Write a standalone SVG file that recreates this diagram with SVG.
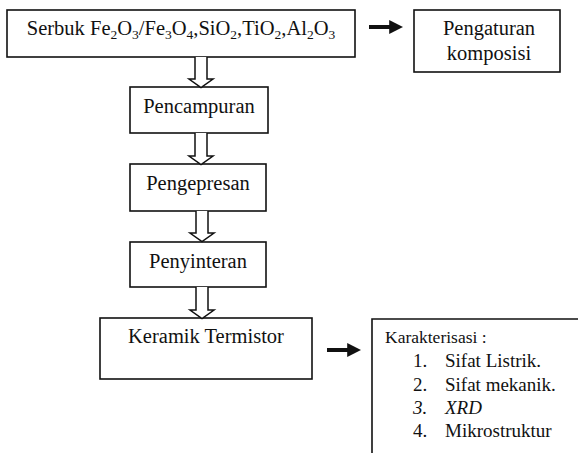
<svg xmlns="http://www.w3.org/2000/svg" width="578" height="453" viewBox="0 0 578 453">
<style>
.box{fill:#fff;stroke:#111;stroke-width:1.6}
text{font-family:'Liberation Serif','Times New Roman','DejaVu Serif',serif;fill:#111}
.t{font-size:20.5px}
.s{font-size:19px}
.hollow{fill:#fff;stroke:#111;stroke-width:1.5;stroke-linejoin:miter}
.solid{stroke:#111;stroke-width:4;fill:none}
.sub{font-size:13.5px}
</style>
<defs>
<marker id="ah" viewBox="0 0 10 10" refX="2" refY="5" markerWidth="3.5" markerHeight="3.5" orient="auto" markerUnits="strokeWidth">
<path d="M0,0 L10,5 L0,10 z" fill="#111"/>
</marker>
</defs>
<rect width="578" height="453" fill="#fff"/>
<g id="serbuk">
<rect class="box" x="7" y="10" width="348" height="47"/>
<text class="t" x="181" y="35" text-anchor="middle">Serbuk Fe<tspan class="sub" dy="4">2</tspan><tspan dy="-4">O</tspan><tspan class="sub" dy="4">3</tspan><tspan dy="-4">/Fe</tspan><tspan class="sub" dy="4">3</tspan><tspan dy="-4">O</tspan><tspan class="sub" dy="4">4</tspan><tspan dy="-4">,SiO</tspan><tspan class="sub" dy="4">2</tspan><tspan dy="-4">,TiO</tspan><tspan class="sub" dy="4">2</tspan><tspan dy="-4">,Al</tspan><tspan class="sub" dy="4">2</tspan><tspan dy="-4">O</tspan><tspan class="sub" dy="4">3</tspan></text>
</g>
<g id="pengaturan">
<rect class="box" x="414" y="10" width="146" height="62"/>
<text class="t" x="489" y="35" text-anchor="middle">Pengaturan</text>
<text class="t" x="489" y="60" text-anchor="middle">komposisi</text>
</g>
<g id="pencampuran">
<rect class="box" x="130" y="87" width="138" height="46"/>
<text class="t" x="199" y="113" text-anchor="middle">Pencampuran</text>
</g>
<g id="pengepresan">
<rect class="box" x="130" y="164" width="136" height="47"/>
<text class="t" x="198" y="190" text-anchor="middle">Pengepresan</text>
</g>
<g id="penyinteran">
<rect class="box" x="130" y="242" width="136" height="45"/>
<text class="t" x="198" y="268" text-anchor="middle">Penyinteran</text>
</g>
<g id="keramik">
<rect class="box" x="100" y="318" width="212" height="61"/>
<text class="t" x="206" y="343" text-anchor="middle">Keramik Termistor</text>
</g>
<g id="karakterisasi">
<path class="box" d="M372,454 V319 H580" fill="none"/>
<text x="385" y="343" font-size="17.5">Karakterisasi :</text>
<text class="s" x="413" y="367">1.</text><text class="s" x="445" y="367">Sifat Listrik.</text>
<text class="s" x="413" y="391">2.</text><text class="s" x="445" y="391">Sifat mekanik.</text>
<text class="s" x="413" y="414" font-style="italic">3.</text><text class="s" x="445" y="414" font-style="italic">XRD</text>
<text class="s" x="413" y="437">4.</text><text class="s" x="445" y="437">Mikrostruktur</text>
</g>
<g id="connectors">
<path class="hollow" d="M195,57 V79 H189 L201,87.5 L213,79 H207 V57"/>
<path class="hollow" d="M195,133 V156 H189 L201,164.5 L213,156 H207 V133"/>
<path class="hollow" d="M196,211 V233 H190 L202,241.5 L214,233 H208 V211"/>
<path class="hollow" d="M196,287 V310 H190 L202,318.5 L214,310 H208 V287"/>
<path class="solid" d="M369,27 H392" marker-end="url(#ah)"/>
<path class="solid" d="M327,350 H350" marker-end="url(#ah)"/>
</g>
</svg>
